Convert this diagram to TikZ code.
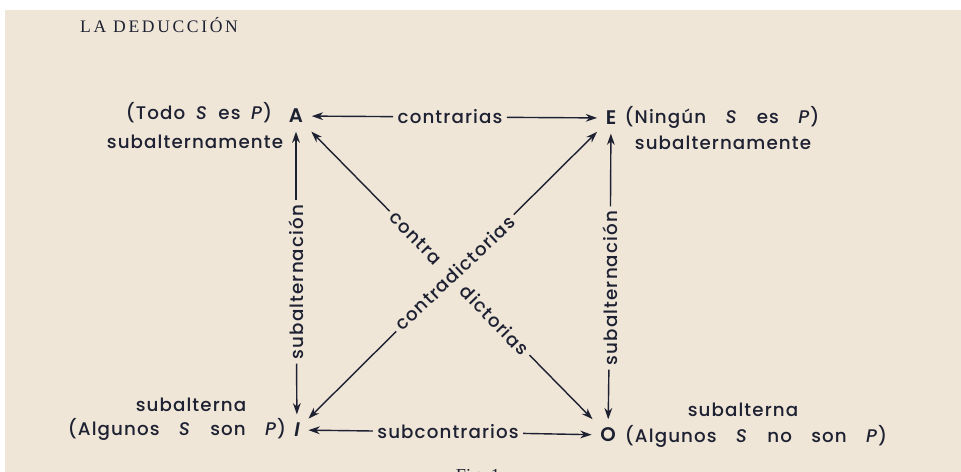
\documentclass[tikz,border=0pt]{standalone}
\usepackage{fontspec}
\setmainfont{Liberation Serif}
\newfontfamily\headfont[LetterSpace=15]{Liberation Serif}
\newfontfamily\figfont[LetterSpace=6, WordSpace=3.3,
    UprightFont={* Medium}, ItalicFont={* Medium Italic},
    BoldFont={* SemiBold}, BoldItalicFont={* SemiBold Italic}]{Poppins}
\usetikzlibrary{arrows.meta}
\definecolor{paper}{RGB}{239,230,216}
\definecolor{ink}{RGB}{30,33,50}

\begin{document}
\begin{tikzpicture}[x=0.025cm, y=-0.025cm, text=ink,
    font=\figfont\fontsize{13}{15}\selectfont,
    letter/.style={inner sep=6pt, font=\figfont\bfseries\fontsize{14}{15}\selectfont},
    rel/.style={inner sep=3pt},
    arr/.style={-{Stealth[length=8pt,width=5.5pt,inset=2.5pt]}, line width=1pt, draw=ink}]
        % page
        \fill[white] (0,0) rectangle (961,472);
        \fill[paper] (5,10) rectangle (961,472);
        \clip (0,0) rectangle (961,472);
        \node[font=\headfont\fontsize{12.5}{14}\selectfont] (head) at (159,25) {LA DEDUCCIÓN};
        \node[font=\fontsize{13}{14}\selectfont] (fig) at (478,477) {Fig. 1};

        % the four propositions
        \node[letter] (A) at (296,116) {A};
        \node[letter] (E) at (611,118) {E};
        \node[letter] (I) at (297,430) {\itshape I};
        \node[letter] (O) at (608,435) {O};

        \node (tA) at (199,113) {\spaceskip=7.5pt\relax (Todo \textit{S} es \textit{P})};
        \node (sA) at (195,142) {subalternamente};
        \node (tE) at (722,117) {(Ningún \textit{S} es \textit{P})};
        \node (sE) at (723,143) {subalternamente};
        \node (sI) at (191,405) {subalterna};
        \node (tI) at (177,429) {(Algunos \textit{S} son \textit{P})};
        \node (sO) at (743,410) {subalterna};
        \node (tO) at (756,436) {(Algunos \textit{S} no son \textit{P})};

        % relations
        \node[rel] (ctr) at (450,117) {contrarias};
        \node[rel] (sub) at (448,432) {subcontrarios};
        \node[rel, rotate=90] (salt1) at (296,282) {subalternación};
        \node[rel, rotate=90] (salt2) at (610,288) {subalternación};
        \node[rel, rotate=43.4] (cd) at (455,273) {contradictorias};
        \node[rel, rotate=-45.8] (c1) at (416,238) {contra};
        \node[rel, rotate=-45.8] (c2) at (495,320) {dictorias};

        \draw[arr] (ctr) -- (A);
        \draw[arr] (ctr) -- (E);
        \draw[arr] (sub) -- (I);
        \draw[arr] (sub) -- (O);
        \draw[arr] (salt1) -- (A);
        \draw[arr] (salt1) -- (I);
        \draw[arr] (salt2) -- (E);
        \draw[arr] (salt2) -- (O);
        \draw[arr] (cd) -- (I);
        \draw[arr] (cd) -- (E);
        \draw[arr] (c1) -- (A);
        \draw[arr] (c2) -- (O);
    \end{tikzpicture}
\end{document}
